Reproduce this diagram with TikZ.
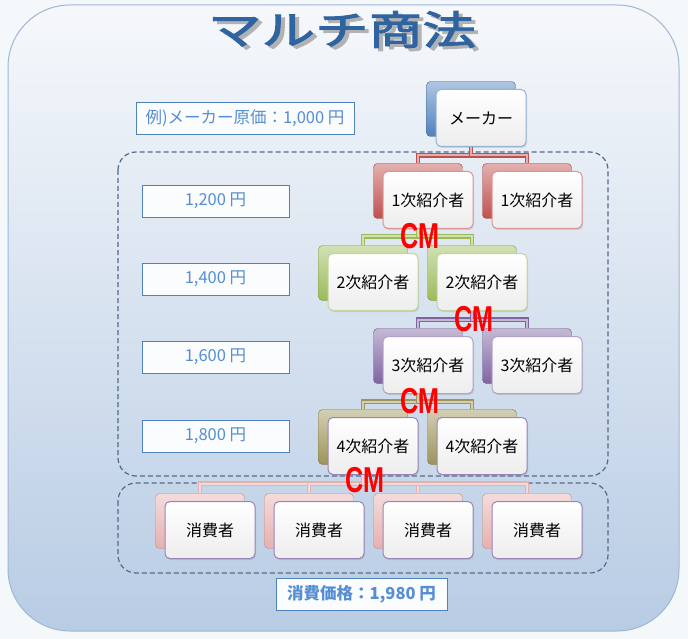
\documentclass[tikz,border=0pt]{standalone}
\usepackage{fontspec}
\usepackage{graphicx}
\setmainfont{Noto Sans CJK JP}
\newfontfamily\cmfont{Liberation Sans}
\newfontfamily\titlefont{Noto Sans CJK JP}[FakeBold=2.2]
\usetikzlibrary{shadows}
\definecolor{bgpage}{HTML}{F5F8FB}
\definecolor{bgtop}{HTML}{F6F8FB}
\definecolor{bgmid}{HTML}{E4EAF3}
\definecolor{bgbot}{HTML}{B8CCE4}
\definecolor{rim}{HTML}{9DB7D8}
\definecolor{titleblue}{HTML}{2F64A0}
\definecolor{pricetxt}{HTML}{558ED5}
\definecolor{priceedge}{HTML}{4F81BD}
\definecolor{dashc}{HTML}{55698A}
\definecolor{mkblue}{HTML}{4F81BD}
\definecolor{k1red}{HTML}{C0504D}
\definecolor{k2green}{HTML}{9BBB59}
\definecolor{k3purple}{HTML}{8064A2}
\definecolor{k4olive}{HTML}{9C9458}
\definecolor{shpink}{HTML}{E6B0AF}
\definecolor{mkedge}{HTML}{95B3D7}
\definecolor{k1edge}{HTML}{D99694}
\definecolor{k2edge}{HTML}{C3D69B}
\definecolor{k3edge}{HTML}{B3A2C7}
\definecolor{k4edge}{HTML}{9A85B8}
\newcommand\titleshadowed[1]{\makebox[0pt][l]{\hspace{3pt}\raisebox{-3pt}{\color{black!30}#1}}#1}
\begin{document}
\begin{tikzpicture}[x=1pt, y=-1pt,
    back/.style={rounded corners=4pt, minimum width=89pt, minimum height=55pt, inner sep=0pt,
        draw=#1!80!black, top color=#1!45!white, bottom color=#1},
    front/.style={rounded corners=5pt, minimum width=90pt, minimum height=57pt, inner sep=0pt,
        draw=#1, line width=1pt, top color=white, bottom color=black!7,
        drop shadow={shadow xshift=1pt, shadow yshift=-1.5pt, opacity=0.25},
        font=\fontsize{16}{16}\selectfont},
    conn/.style={draw=#1, line width=1.1pt, double=#1!45!white, double distance=2pt},
    price/.style={draw=priceedge, fill=white!60!bgpage, text=pricetxt, minimum height=32pt,
        inner sep=0pt, font=\fontsize{16.5}{16.5}\selectfont},
    cmlabel/.style={text=red, inner sep=0pt, font=\cmfont\bfseries\fontsize{36}{36}\selectfont},
    zone/.style={draw=dashc, line width=1.2pt, dash pattern=on 5pt off 3pt, rounded corners=18pt}]
    \useasboundingbox (0,0) rectangle (688,639);
    \fill[bgpage] (0,0) rectangle (688,639);
    % Fond
    \shade[top color=bgtop, middle color=bgmid, bottom color=bgbot, draw=rim, line width=1pt,
        rounded corners=62pt] (8,5) rectangle (679,631);
    % Titre
    \node[text=titleblue, font=\titlefont\fontsize{40}{40}\selectfont] (title) at (342,31) {\scalebox{1.34}[1]{\titleshadowed{マルチ商法}}};

    % Zones
    \draw[zone] (118,152) rectangle (608,476);
    \draw[zone] (118,483) rectangle (608,573);

    % Prix
    \node[price, minimum width=218pt] (genka) at (245,118) {例)メーカー原価：1,000 円};
    \node[price, minimum width=147pt] (p1) at (215.5,201) {1,200 円};
    \node[price, minimum width=147pt] (p2) at (215.5,279) {1,400 円};
    \node[price, minimum width=147pt] (p3) at (215.5,357) {1,600 円};
    \node[price, minimum width=147pt] (p4) at (215.5,436) {1,800 円};
    \node[price, minimum width=171pt, font=\bfseries\fontsize{16.5}{16.5}\selectfont] (kakaku) at (361.5,594) {消費価格：1,980 円};

    % Meker
    \node[back=mkblue] (mkb) at (471,109) {};
    \node[front=mkedge] (mk) at (481,118) {メーカー};
    % 1次紹介者
    \node[back=k1red] (k1ab) at (418,191) {};
    \node[front=k1edge] (k1a) at (428,200) {1次紹介者};
    \node[back=k1red] (k1bb) at (527,191) {};
    \node[front=k1edge] (k1b) at (537,200) {1次紹介者};
    % 2次紹介者
    \node[back=k2green] (k2ab) at (363,273) {};
    \node[front=k2edge] (k2a) at (373,282) {2次紹介者};
    \node[back=k2green] (k2bb) at (472,273) {};
    \node[front=k2edge] (k2b) at (482,282) {2次紹介者};
    % 3次紹介者
    \node[back=k3purple] (k3ab) at (418,356) {};
    \node[front=k3edge] (k3a) at (428,365) {3次紹介者};
    \node[back=k3purple] (k3bb) at (527,356) {};
    \node[front=k3edge] (k3b) at (537,365) {3次紹介者};
    % 4次紹介者
    \node[back=k4olive] (k4ab) at (363,437) {};
    \node[front=k4edge] (k4a) at (373,446) {4次紹介者};
    \node[back=k4olive] (k4bb) at (472,437) {};
    \node[front=k4edge] (k4b) at (482,446) {4次紹介者};
    % 消費者
    \foreach \i/\x in {1/210, 2/319, 3/428, 4/537} {
        \node[back=shpink] (sh\i b) at (\x-10,521) {};
        \node[front=k4edge] (sh\i) at (\x,530) {消費者};
    }

    % Liens
    \draw[conn=k1red] (mkb.south |- mk.south) -- ++(0,8.5) -| (k1ab.north);
    \draw[conn=k1red] (mkb.south |- mk.south) -- ++(0,8.5) -| (k1bb.north);
    \draw[conn=k2green] (k1ab.south |- k1a.south) -- ++(0,7.5) -| (k2ab.north);
    \draw[conn=k2green] (k1ab.south |- k1a.south) -- ++(0,7.5) -| (k2bb.north);
    \draw[conn=k3purple] (k2bb.south |- k2b.south) -- ++(0,8.5) -| (k3ab.north);
    \draw[conn=k3purple] (k2bb.south |- k2b.south) -- ++(0,8.5) -| (k3bb.north);
    \draw[conn=k4olive] (k3ab.south |- k3a.south) -- ++(0,7.5) -| (k4ab.north);
    \draw[conn=k4olive] (k3ab.south |- k3a.south) -- ++(0,7.5) -| (k4bb.north);
    \foreach \i in {1,...,4}
        \draw[conn=shpink] (k4ab.south |- k4a.south) -- ++(0,8.5) -| (sh\i b.north);

    % CM
    \node[cmlabel] (cm1) at (420,236) {\scalebox{0.7}[1]{CM}};
    \node[cmlabel] (cm2) at (474,319) {\scalebox{0.7}[1]{CM}};
    \node[cmlabel] (cm3) at (420,401) {\scalebox{0.7}[1]{CM}};
    \node[cmlabel] (cm4) at (365,480) {\scalebox{0.7}[1]{CM}};
\end{tikzpicture}
\end{document}
